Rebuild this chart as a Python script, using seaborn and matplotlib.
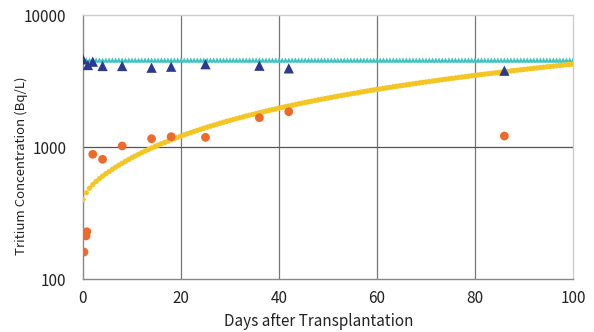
import numpy as np
import pandas as pd
import matplotlib
matplotlib.use("Agg")
import matplotlib.pyplot as plt
import seaborn as sns

# Measured tritium in plant water (orange circles)
plant_days = [0.2, 0.6, 0.8, 2, 4, 8, 14, 18, 25, 36, 42, 86]
plant_conc = [160, 212, 228, 881, 807, 1018, 1156, 1197, 1183, 1667, 1851, 1211]

# Measured tritium in culture water (navy triangles)
water_days = [0, 1, 2, 4, 8, 14, 18, 25, 36, 42, 86]
water_conc = [4615, 4180, 4430, 4110, 4110, 3990, 4060, 4240, 4130, 3945, 3785]

# Model curves sampled every 2/3 day from 0 to 100
model_days = np.linspace(0, 100, 151)
model_water_level = 4560
model_plant = [
    400, 450, 487, 519, 548, 575, 601, 627, 652,
    678, 703, 729, 754, 779, 805, 830, 855, 881, 906, 931, 957,
    982, 1007, 1033, 1058, 1083, 1109, 1134, 1159, 1185, 1210, 1235, 1261,
    1286, 1311, 1337, 1362, 1387, 1413, 1438, 1463, 1489, 1514, 1539, 1565,
    1590, 1615, 1641, 1666, 1691, 1717, 1742, 1767, 1793, 1818, 1843, 1869,
    1894, 1919, 1945, 1970, 1995, 2021, 2046, 2071, 2097, 2122, 2147, 2173,
    2198, 2223, 2249, 2274, 2299, 2325, 2350, 2375, 2401, 2426, 2451, 2477,
    2502, 2527, 2553, 2578, 2603, 2629, 2654, 2679, 2705, 2730, 2755, 2781,
    2806, 2831, 2857, 2882, 2907, 2933, 2958, 2983, 3009, 3034, 3059, 3085,
    3110, 3135, 3161, 3186, 3211, 3237, 3262, 3287, 3313, 3338, 3363, 3389,
    3414, 3439, 3465, 3490, 3515, 3541, 3566, 3591, 3617, 3642, 3667, 3693,
    3718, 3743, 3769, 3794, 3819, 3845, 3870, 3895, 3921, 3946, 3971, 3997,
    4022, 4047, 4073, 4098, 4123, 4149, 4174, 4199, 4225, 4250,
]

x_ticks = [0, 20, 40, 60, 80, 100]
y_ticks = [100, 1000, 10000]

sns.set_theme(style="white")
plt.rcParams["font.family"] = ["Noto Sans CJK JP", "DejaVu Sans"]

fig = plt.figure(figsize=(5.94, 3.32), dpi=100)
ax = fig.add_axes([0.1397, 0.1596, 0.8249, 0.7952])

model_df = pd.DataFrame({
    "day": model_days,
    "water": np.full(len(model_days), model_water_level),
    "plant": model_plant,
})

sns.scatterplot(data=model_df, x="day", y="water", marker="^", s=14,
                color="#3DC3C3", edgecolor="none", ax=ax, zorder=3)
sns.scatterplot(data=model_df, x="day", y="plant", marker="o", s=15,
                color="#F3C623", edgecolor="none", ax=ax, zorder=3)
sns.scatterplot(x=water_days, y=water_conc, marker="^", s=55,
                color="#2B3A8F", edgecolor="none", ax=ax, zorder=4)
sns.scatterplot(x=plant_days, y=plant_conc, marker="o", s=40,
                color="#EE6A2A", edgecolor="none", ax=ax, zorder=4)

ax.set_yscale("log")
ax.set_xlim(0, 100)
ax.set_ylim(100, 10000)
ax.set_xticks(x_ticks)
ax.set_xticklabels([str(v) for v in x_ticks])
ax.set_yticks(y_ticks)
ax.set_yticklabels([str(v) for v in y_ticks])
ax.minorticks_off()
ax.tick_params(axis="both", length=0, labelsize=11, colors="#222222")
ax.tick_params(axis="x", pad=8)
ax.tick_params(axis="y", pad=12)

for v in x_ticks[1:-1]:
    ax.axvline(v, color="#777777", lw=0.9, zorder=1)
ax.axhline(1000, color="#555555", lw=0.9, zorder=1)

for side in ["top", "right"]:
    ax.spines[side].set_color("#CCCCCC")
    ax.spines[side].set_linewidth(1.0)
for side in ["left", "bottom"]:
    ax.spines[side].set_color("#888888")
    ax.spines[side].set_linewidth(1.0)

ax.set_xlabel("Days after Transplantation", fontsize=11, color="#222222")
ax.set_ylabel("Tritium Concentration (Bq/L)", fontsize=9.5, color="#222222")
ax.xaxis.set_label_coords(0.482, -0.13)
ax.yaxis.set_label_coords(-0.112, 0.43)

fig.savefig("out.png", dpi=100)
